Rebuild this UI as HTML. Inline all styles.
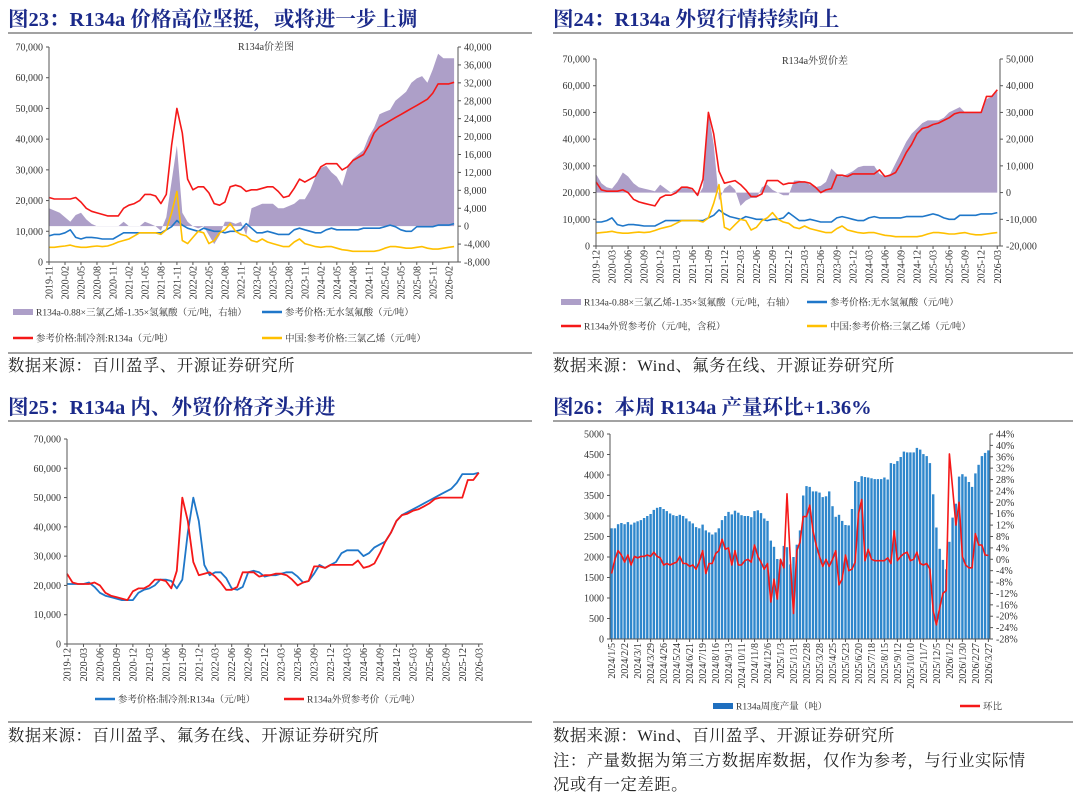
<!DOCTYPE html>
<html><head><meta charset="utf-8"><style>
html,body{margin:0;padding:0;background:#fff;width:1080px;height:799px;overflow:hidden}
svg{display:block}
.h{font-family:"Liberation Serif","Noto Serif CJK SC",serif;font-weight:bold;font-size:20.5px;fill:#1b2a8a}
.s{font-family:"Liberation Serif","Noto Serif CJK SC",serif;font-size:16.3px;letter-spacing:0.6px;fill:#222}
.t{font-family:"Liberation Serif","Noto Serif CJK SC",serif;font-size:10px;fill:#333}
.lg{font-family:"Liberation Serif","Noto Serif CJK SC",serif;font-size:9.5px;fill:#333}
</style></head><body>
<svg id="root" width="1080" height="799" viewBox="0 0 1080 799" xmlns="http://www.w3.org/2000/svg">
<text class="h" x="8" y="26">图23：R134a 价格高位坚挺，或将进一步上调</text>
<text class="h" x="553" y="26">图24：R134a 外贸行情持续向上</text>
<line x1="8" y1="33" x2="532" y2="33" stroke="#444"/>
<line x1="553" y1="33" x2="1073" y2="33" stroke="#444"/>
<line x1="8" y1="353" x2="532" y2="353" stroke="#444"/>
<line x1="553" y1="353" x2="1073" y2="353" stroke="#444"/>
<text class="s" x="8" y="371">数据来源：百川盈孚、开源证券研究所</text>
<text class="s" x="553" y="371">数据来源：Wind、氟务在线、开源证券研究所</text>
<text class="h" x="8" y="414">图25：R134a 内、外贸价格齐头并进</text>
<text class="h" x="553" y="414">图26：本周 R134a 产量环比+1.36%</text>
<line x1="8" y1="421" x2="532" y2="421" stroke="#444"/>
<line x1="553" y1="421" x2="1073" y2="421" stroke="#444"/>
<line x1="8" y1="722" x2="532" y2="722" stroke="#444"/>
<line x1="553" y1="722" x2="1073" y2="722" stroke="#444"/>
<text class="s" x="8" y="741">数据来源：百川盈孚、氟务在线、开源证券研究所</text>
<text class="s" x="553" y="741">数据来源：Wind、百川盈孚、开源证券研究所</text>
<text class="s" x="553" y="766">注：产量数据为第三方数据库数据，仅作为参考，与行业实际情</text>
<text class="s" x="553" y="790">况或有一定差距。</text>
</svg>
<script>
// ---------- data ----------
const months23 = ["2019-11","2020-02","2020-05","2020-08","2020-11","2021-02","2021-05","2021-08","2021-11","2022-02","2022-05","2022-08","2022-11","2023-02","2023-05","2023-08","2023-11","2024-02","2024-05","2024-08","2024-11","2025-02","2025-05","2025-08","2025-11","2026-02"];
const months24 = ["2019-12","2020-03","2020-06","2020-09","2020-12","2021-03","2021-06","2021-09","2021-12","2022-03","2022-06","2022-09","2022-12","2023-03","2023-06","2023-09","2023-12","2024-03","2024-06","2024-09","2024-12","2025-03","2025-06","2025-09","2025-12","2026-03"];
const r134a23 = [21000,20500,20500,20500,20500,21000,19500,17500,16500,16000,15500,15000,
15000,15000,17500,18500,19000,20000,22000,22000,21500,19000,22000,38000,
50000,42000,27000,23500,24500,24500,22500,19000,18500,19500,24500,25000,
24500,23000,23500,23500,24000,24500,24500,23000,21000,21500,24000,27000,
26000,27000,28000,31000,32000,32000,32000,30000,31000,33000,34000,35000,
38000,42000,44000,45000,46000,47000,48000,49000,50000,51000,52000,53000,
55000,58000,58000,58000,58500];
const hf23 = [8500,9000,9000,9500,10500,8000,7500,8000,8000,7800,7500,7500,
7500,8500,9500,9500,9500,9500,9500,9500,9500,9500,10500,11500,
13500,12000,11000,10500,10000,11000,10500,10000,10000,9500,10000,10000,
10500,12500,11000,9500,9500,10000,9500,9000,9000,9000,10500,11000,
10500,10000,9500,9500,10500,11000,10500,10500,10500,10500,10500,11000,
11000,11000,11000,11500,12000,11500,10500,10000,10000,11500,11500,11500,
11500,12000,12000,12000,12500];
const tce23 = [4800,4800,5000,5200,5500,5000,4800,4800,5000,5200,5000,5200,
5800,6500,7000,7500,8500,9500,9500,9500,9500,9000,10500,16000,
23000,7000,6000,8000,10000,9500,6000,7000,9500,10500,12500,10000,
9000,8500,7000,6500,7500,6500,6000,5500,5000,5000,6500,7500,
6000,5500,5000,4800,5000,5000,4500,4000,3800,3500,3500,3500,
3500,3500,3800,4500,5000,5000,4800,4500,4500,4800,5000,4500,
4200,4200,4500,4800,5000];
const spread23 = [4000,3500,3000,2000,1000,2500,3000,1500,500,0,0,0,
0,0,1000,0,0,0,1000,500,0,-1000,2000,10000,
18000,3000,1000,0,-500,0,-2000,-4000,-2000,1000,1000,500,
1000,-2000,4000,4500,5000,5000,5000,4000,4000,4500,5000,6000,
6000,8000,11000,13000,13500,12000,11000,9000,13000,15000,16000,17000,
20000,22000,25000,25500,26000,28000,29000,30000,32000,33000,33500,32000,
35000,38500,37500,37500,37500];
const export24 = [24000,21000,20500,20500,20500,21000,20000,17500,16500,16000,15500,15000,
18000,19000,19000,20000,22000,22000,21500,19000,25000,50000,42000,28000,
23500,24000,24500,23000,21000,18500,18500,19500,24500,24500,24500,23000,
23500,23500,24000,24000,23500,22000,20000,21000,21500,26500,26500,26000,
27000,27000,27000,27000,27000,28500,26000,26500,27500,31000,35000,38000,
42000,44000,44500,45500,46000,47000,48000,49500,50000,50000,50000,50000,
50000,56000,56000,58500];
const hf24 = [9000,9000,9500,10500,8000,7500,8000,8000,7800,7500,7500,
7500,8500,9500,9500,9500,9500,9500,9500,9500,9500,10500,11500,
13500,12000,11000,10500,10000,11000,10500,10000,10000,9500,10000,10000,
10500,12500,11000,9500,9500,10000,9500,9000,9000,9000,10500,11000,
10500,10000,9500,9500,10500,11000,10500,10500,10500,10500,10500,11000,
11000,11000,11000,11500,12000,11500,10500,10000,10000,11500,11500,11500,
11500,12000,12000,12000,12500];
const tce24 = [4800,5000,5200,5500,5000,4800,4800,5000,5200,5000,5200,
5800,6500,7000,7500,8500,9500,9500,9500,9500,9000,10500,16000,
23000,7000,6000,8000,10000,9500,6000,7000,9500,10500,12500,10000,
9000,8500,7000,6500,7500,6500,6000,5500,5000,5000,6500,7500,
6000,5500,5000,4800,5000,5000,4500,4000,3800,3500,3500,3500,
3500,3500,3800,4500,5000,5000,4800,4500,4500,4800,5000,4500,
4200,4200,4500,4800,5000];
const spread24 = [7000,3500,2000,1500,4000,7500,6000,3500,2000,1500,1000,500,
3000,1500,0,1000,2000,2000,1000,-1500,2000,30000,18000,-3000,
1500,3000,1000,-5000,-3000,-2000,-2000,2000,3000,1000,0,-1000,
-1000,4500,4500,4000,3000,2000,2500,4000,9000,7000,6000,7000,
8000,9500,10000,10000,10000,7000,6000,7000,11000,15000,19000,22000,
24000,26000,27000,27000,27000,28000,30000,31000,32000,30000,30000,30000,
30000,35000,36000,38000];
const domestic25 = [20500,20500,20500,20500,21000,19500,17500,16500,16000,15500,15000,
15000,15000,17500,18500,19000,20000,22000,22000,21500,19000,22000,38000,
50000,42000,27000,23500,24500,24500,22500,19000,18500,19500,24500,25000,
24500,23000,23500,23500,24000,24500,24500,23000,21000,21500,24000,27000,
26000,27000,28000,31000,32000,32000,32000,30000,31000,33000,34000,35000,
38000,42000,44000,45000,46000,47000,48000,49000,50000,51000,52000,53000,
55000,58000,58000,58000,58500];
const export25 = [24000,21000,20500,20500,20500,21000,20000,17500,16500,16000,15500,15000,
18000,19000,19000,20000,22000,22000,21500,19000,25000,50000,42000,28000,
23500,24000,24500,23000,21000,18500,18500,19500,24500,24500,24500,23000,
23500,23500,24000,24000,23500,22000,20000,21000,21500,26500,26500,26000,
27000,27000,27000,27000,27000,28500,26000,26500,27500,31000,35000,38000,
42000,44000,44500,45500,46000,47000,48000,49500,50000,50000,50000,50000,
50000,56000,56000,58500];
const weeks26 = ["2024/1/5","2024/2/2","2024/3/1","2024/3/29","2024/4/26","2024/5/24","2024/6/21","2024/7/19","2024/8/16","2024/9/13","2024/10/11","2024/11/8","2024/12/6","2025/1/3","2025/1/31","2025/2/28","2025/3/28","2025/4/25","2025/5/23","2025/6/20","2025/7/18","2025/8/15","2025/9/12","2025/10/10","2025/11/7","2025/12/5","2026/1/2","2026/1/30","2026/2/27","2026/3/27"];
const output26 = [2700,2700,2800,2830,2800,2850,2790,2840,2870,2900,
2950,3000,3050,3150,3200,3220,3170,3120,3060,3020,
3000,3030,3000,2940,2870,2820,2730,2700,2790,2650,
2600,2550,2600,2700,2900,3000,3100,3040,3130,3080,
3020,3000,3000,2970,3120,3140,3070,2940,2880,2400,
2250,1950,1930,2270,2240,1820,2000,2300,2650,3500,
3730,3710,3600,3600,3570,3460,3480,3600,3240,2980,3030,
2880,2780,2770,3170,3850,3830,3970,3950,3940,3920,
3900,3900,3900,3940,3890,4290,4270,4340,4440,4570,4550,
4550,4550,4660,4620,4510,4460,4290,3530,2720,2200,1930,
1700,2370,2960,3300,3960,4020,3960,3830,3710,4040,
4250,4460,4540,4600];
const wow26 = [-5,0,3,1.5,-1,1.5,-2,1,0.5,1,
1,1.5,1,2.5,1,0.5,-2,-1.5,-2,-1.5,
-1,1,-1.5,-1.5,-2.5,-2,-3.5,-1,3,-5,
-1.5,-1.5,2,3,7,3.5,4,-2,3,-2,
-2,-0.5,0,-1,5,1,-1,-3.5,-1.5,-15,
-7,-14,0,-3,23,0,-19,3,6,15,
15,19,10,5,1,-2.5,0,-2.5,0,3,
-9,-7,1.5,-4,-3.5,-1,16,21,-0.5,3.5,
0,-0.5,-0.5,-0.5,-0.5,0.5,-1.5,10,-0.5,1,
2,2.5,-0.5,0,2.5,-1.5,-2,-1.5,-3.5,-18,
-23,-17,-12,-11,37,25,12,20,1,-2,
-3,-3,9,5,5,1.5,1.36];
const leftTicks = [0,10000,20000,30000,40000,50000,60000,70000];
const right23 = [-8000,-4000,0,4000,8000,12000,16000,20000,24000,28000,32000,36000,40000];
const right24 = [-20000,-10000,0,10000,20000,30000,40000,50000];
const left26 = [0,500,1000,1500,2000,2500,3000,3500,4000,4500,5000];
const right26 = [-28,-24,-20,-16,-12,-8,-4,0,4,8,12,16,20,24,28,32,36,40,44];

// ---------- helpers ----------
const NS='http://www.w3.org/2000/svg';
const root=document.getElementById('root');
function el(tag,parent){const e=document.createElementNS(NS,tag);(parent||root).appendChild(e);return e;}
function fmt(v){return v.toLocaleString('en-US');}
const PURPLE='#ad9fc8',RED='#f51818',BLUE='#1f77c9',YEL='#ffc000';

function frame(g,C,hasRight){
  const a=el('path',g);
  
  
  a.setAttribute('d',`M${C.x0},${C.y0} V${C.y1} H${C.x1}`+(hasRight?` V${C.y0}`:''));
  a.setAttribute('fill','none');a.setAttribute('stroke','#555');a.setAttribute('stroke-width','1');
}
function yTicks(g,C,ticks,lo,hi,side,fmtf){
  ticks.forEach(v=>{
    const y=C.y1-(v-lo)/(hi-lo)*(C.y1-C.y0);
    const t=el('text',g);
    
    
    t.setAttribute('class','t');
    t.setAttribute('x',side==='left'?C.x0-6:C.x1+6);t.setAttribute('y',y+3.5);
    t.setAttribute('text-anchor',side==='left'?'end':'start');
    t.textContent=fmtf(v);
    const k=el('line',g);
    
    
    const xx=side==='left'?C.x0:C.x1;
    k.setAttribute('x1',side==='left'?xx-3:xx);k.setAttribute('x2',side==='left'?xx:xx+3);
    k.setAttribute('y1',y);k.setAttribute('y2',y);k.setAttribute('stroke','#555');
  });
}
function xLabels(g,C,labels,xf,step){
  labels.forEach((s,j)=>{
    const x=xf(j*step);
    const t=el('text',g);
    
    
    t.setAttribute('class','t');
    t.setAttribute('transform',`translate(${x+3.5},${C.y1+4}) rotate(-90)`);
    t.setAttribute('text-anchor','end');
    t.textContent=s;
    const k=el('line',g);
    
    
    k.setAttribute('x1',x);k.setAttribute('x2',x);k.setAttribute('y1',C.y1);k.setAttribute('y2',C.y1+3);k.setAttribute('stroke','#555');
  });
}
function line(g,data,xf,yf,color,name,w){
  const p=el('polyline',g);
  
  
  p.setAttribute('points',data.map((v,i)=>xf(i).toFixed(1)+','+yf(v).toFixed(1)).join(' '));
  p.setAttribute('fill','none');p.setAttribute('stroke',color);p.setAttribute('stroke-width',w||1.6);p.setAttribute('stroke-linejoin','round');
}
function area(g,data,xf,yf,name){
  const p=el('path',g);
  
  
  const z=yf(0);
  let d=`M${xf(0)},${z}`;
  data.forEach((v,i)=>{d+=` L${xf(i).toFixed(1)},${yf(v).toFixed(1)}`;});
  d+=` L${xf(data.length-1)},${z} Z`;
  p.setAttribute('d',d);p.setAttribute('fill',PURPLE);
}
function legLine(g,x,y,color,label,name,rect){
  const m=el(rect?'rect':'line',g);
  
  
  if(rect){m.setAttribute('x',x);m.setAttribute('y',y-3);m.setAttribute('width',20);m.setAttribute('height',6);m.setAttribute('fill',color);}
  else{m.setAttribute('x1',x);m.setAttribute('x2',x+20);m.setAttribute('y1',y);m.setAttribute('y2',y);m.setAttribute('stroke',color);m.setAttribute('stroke-width',2.5);}
  const t=el('text',g);
  
  
  t.setAttribute('class','lg');t.setAttribute('x',x+23);t.setAttribute('y',y+3.5);t.textContent=label;
}
function title(g,x,y,s,name){
  const t=el('text',g);
  
  
  t.setAttribute('class','t');t.setAttribute('x',x);t.setAttribute('y',y);t.setAttribute('text-anchor','middle');t.setAttribute('font-size','11');t.textContent=s;
}

// ---------- Chart 23 ----------
(function(){
  const g=el('g');
  
  
  const C={x0:49,x1:458,y0:47,y1:262};
  const xf=i=>C.x0+i*5.33;
  const yL=v=>C.y1-v/70000*(C.y1-C.y0);
  const yR=v=>C.y1-(v+8000)/48000*(C.y1-C.y0);
  area(g,spread23,xf,yR,'spread-area');
  line(g,hf23,xf,yL,BLUE,'hf-price-line');
  line(g,tce23,xf,yL,YEL,'tce-price-line');
  line(g,r134a23,xf,yL,RED,'r134a-price-line');
  frame(g,C,true);
  yTicks(g,C,leftTicks,0,70000,'left',fmt);
  yTicks(g,C,right23,-8000,40000,'right',fmt);
  xLabels(g,C,months23,xf,3);
  title(g,266,50,'R134a价差图','chart-title');
  legLine(g,13,312,PURPLE,'R134a-0.88×三氯乙烯-1.35×氢氟酸（元/吨，右轴）','legend-spread',true);
  legLine(g,262,312,BLUE,'参考价格:无水氢氟酸（元/吨）','legend-hf');
  legLine(g,13,338,RED,'参考价格:制冷剂:R134a（元/吨）','legend-r134a');
  legLine(g,262,338,YEL,'中国:参考价格:三氯乙烯（元/吨）','legend-tce');
})();

// ---------- Chart 24 ----------
(function(){
  const g=el('g');
  
  
  const C={x0:596,x1:1000,y0:59,y1:246};
  const xf=i=>C.x0+i*5.35;
  const yL=v=>C.y1-v/70000*(C.y1-C.y0);
  const yR=v=>C.y1-(v+20000)/70000*(C.y1-C.y0);
  area(g,spread24,xf,yR,'spread-area');
  line(g,hf24,xf,yL,BLUE,'hf-price-line');
  line(g,tce24,xf,yL,YEL,'tce-price-line');
  line(g,export24,xf,yL,RED,'export-price-line');
  frame(g,C,true);
  yTicks(g,C,leftTicks,0,70000,'left',fmt);
  yTicks(g,C,right24,-20000,50000,'right',fmt);
  xLabels(g,C,months24,xf,3);
  title(g,815,64,'R134a外贸价差','chart-title');
  legLine(g,561,302,PURPLE,'R134a-0.88×三氯乙烯-1.35×氢氟酸（元/吨，右轴）','legend-spread',true);
  legLine(g,807,302,BLUE,'参考价格:无水氢氟酸（元/吨）','legend-hf');
  legLine(g,561,326,RED,'R134a外贸参考价（元/吨，含税）','legend-export');
  legLine(g,807,326,YEL,'中国:参考价格:三氯乙烯（元/吨）','legend-tce');
})();

// ---------- Chart 25 ----------
(function(){
  const g=el('g');
  
  
  const C={x0:67,x1:483,y0:439,y1:644};
  const xf=i=>C.x0+i*5.49;
  const yL=v=>C.y1-v/70000*(C.y1-C.y0);
  line(g,domestic25,xf,yL,BLUE,'domestic-price-line',1.8);
  line(g,export25,xf,yL,RED,'export-price-line',1.8);
  frame(g,C,false);
  yTicks(g,C,leftTicks,0,70000,'left',fmt);
  xLabels(g,C,months24,xf,3);
  legLine(g,95,699,BLUE,'参考价格:制冷剂:R134a（元/吨）','legend-domestic');
  legLine(g,284,699,RED,'R134a外贸参考价（元/吨）','legend-export');
})();

// ---------- Chart 26 ----------
(function(){
  const g=el('g');
  
  
  const C={x0:610,x1:990,y0:434,y1:639};
  const n=output26.length;
  const pitch=(C.x1-C.x0)/n;
  const xf=i=>C.x0+pitch*(i+0.5);
  const yL=v=>C.y1-v/5000*(C.y1-C.y0);
  const yR=v=>C.y1-(v+28)/72*(C.y1-C.y0);
  output26.forEach((v,i)=>{
    const r=el('rect',g);
    
    
    r.setAttribute('x',(xf(i)-pitch*0.37).toFixed(1));r.setAttribute('width',(pitch*0.74).toFixed(2));
    r.setAttribute('y',yL(v).toFixed(1));r.setAttribute('height',(C.y1-yL(v)).toFixed(1));r.setAttribute('fill','#2f87cc');
  });
  line(g,wow26,xf,yR,RED,'wow-line',1.6);
  frame(g,C,true);
  yTicks(g,C,left26,0,5000,'left',v=>String(v));
  yTicks(g,C,right26,-28,44,'right',v=>v+'%');
  xLabels(g,C,weeks26,xf,4);
  legLine(g,713,706,'#1f6fbf','R134a周度产量（吨）','legend-output',true);
  legLine(g,960,706,RED,'环比','legend-wow');
})();
</script>
</body></html>
